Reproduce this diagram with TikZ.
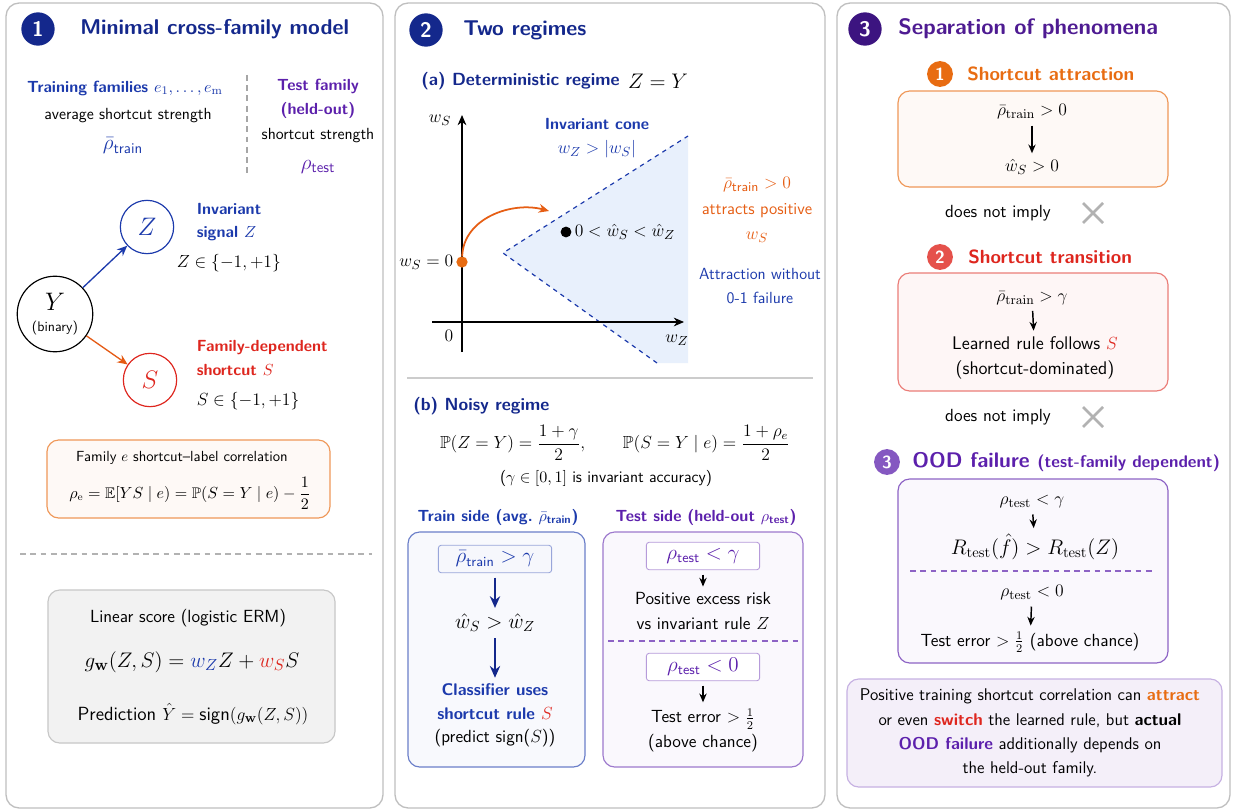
\documentclass[tikz,border=0pt]{standalone}
\usepackage{amsmath}
\usepackage{amssymb}
\usepackage{xcolor}
\usepackage{tikz}
\usetikzlibrary{arrows.meta, positioning, calc}

\definecolor{navy}{RGB}{20,40,140}
\definecolor{sigblue}{RGB}{28,58,172}
\definecolor{testpurple}{RGB}{92,32,172}
\definecolor{darkpurple}{RGB}{60,20,128}
\definecolor{cutred}{RGB}{222,38,30}
\definecolor{attorange}{RGB}{232,108,18}
\definecolor{conefill}{RGB}{232,240,252}

\newcommand{\rtrain}{\bar{\rho}_{\text{train}}}
\newcommand{\rtest}{\rho_{\text{test}}}
\newcommand{\bodysize}{\fontsize{11}{16}\selectfont}
\newcommand{\bigsize}{\fontsize{12}{16.5}\selectfont}

\begin{document}
\begin{tikzpicture}[x=0.024cm, y=-0.024cm,
    panel/.style={draw=black!25, fill=white, rounded corners=9pt, line width=0.9pt},
    badge/.style={circle, fill=#1, text=white, inner sep=0pt, minimum size=0.8cm, font=\sffamily\bfseries\Large},
    subbadge/.style={circle, fill=#1, text=white, inner sep=0pt, minimum size=0.62cm, font=\sffamily\bfseries\large},
    title/.style={anchor=west, inner sep=0pt, text=#1, font=\sffamily\bfseries\fontsize{14.6}{17}\selectfont},
    subtitle/.style={anchor=west, inner sep=0pt, text=#1, font=\sffamily\bfseries\large},
    txt/.style={inner sep=1pt, align=center, font=\sffamily\bodysize},
    bigtxt/.style={txt, font=\sffamily\bigsize},
    hd/.style={txt, font=\sffamily\bfseries\bodysize},
    mth/.style={txt, font=\sffamily\fontsize{13}{15}\selectfont},
    var/.style={circle, draw=#1, text=#1, line width=0.8pt, minimum size=1.28cm, font=\fontsize{18}{18}\selectfont},
    box/.style={draw=#1, rounded corners=8pt, line width=0.8pt},
    cond/.style={draw=#1, rounded corners=2pt, line width=0.6pt, minimum width=2.72cm, minimum height=0.66cm, font=\sffamily\fontsize{13.5}{15}\selectfont},
    arrow/.style={-{Stealth[length=7pt, width=6pt]}, line width=0.9pt},
    darrow/.style={-{Stealth[length=6pt, width=5pt]}, line width=1pt, shorten <=3pt, shorten >=3pt},
    divider/.style={line width=0.7pt, dash pattern=on 4pt off 3pt},
    nocross/.style={draw=black!30, line width=1.8pt}
]
\useasboundingbox (0,0) rectangle (1233,812);
\fill[white] (0,0) rectangle (1233,812);

\draw[panel] (6,3) rectangle (383,808);
\draw[panel] (395,3) rectangle (825,808);
\draw[panel] (837,3) rectangle (1230,808);

% panel 1
\node[badge=navy] (b1) at (38,29) {1};
\node[title=navy] (t1) at (80,29) {Minimal cross-family model};
\node[hd, text=sigblue] (trainfam) at (125,88) {Training families $e_1,\ldots,e_{\mathrm{m}}$};
\node[txt] (avgstr) at (128,116) {average shortcut strength};
\node[mth, font=\sffamily\fontsize{14.5}{16}\selectfont, text=sigblue] (rtrain) at (123,146) {$\rtrain$};
\draw[divider, black!35] (247,75) -- (247,175);
\node[hd, text=testpurple] (testfam) at (318,99) {Test family\\(held-out)};
\node[txt] (teststr) at (318,136) {shortcut strength};
\node[mth, font=\sffamily\fontsize{14.5}{16}\selectfont, text=testpurple] (rtest) at (318,167) {$\rtest$};

\node[var=black, minimum size=1.68cm, align=center] (Y) at (55,314) {$Y$\\[-4pt]{\sffamily\fontsize{9.5}{10}\selectfont (binary)}};
\node[var=sigblue] (Z) at (147,227) {$Z$};
\node[var=cutred] (S) at (150,380) {$S$};
\node[hd, text=sigblue, anchor=west, align=left] (zlab) at (195,222) {Invariant\\signal $Z$};
\node[txt, font=\bigsize, anchor=west] (zdom) at (175,263) {$Z\in\{-1,+1\}$};
\node[hd, text=cutred, anchor=west, align=left] (slab) at (195,358) {Family-dependent\\shortcut $S$};
\node[txt, font=\bigsize, anchor=west] (sdom) at (195,401) {$S\in\{-1,+1\}$};
\draw[arrow, sigblue] (Y) -- (Z);
\draw[arrow, attorange!75!cutred] (Y) -- (S);

\draw[box=attorange!70, fill=attorange!4] (47,440) rectangle (330,518);
\node[txt, font=\sffamily\fontsize{10}{12}\selectfont] (corrlab) at (182,458) {Family $e$ shortcut--label correlation};
\node[txt, font=\fontsize{10.5}{12}\selectfont] (corr) at (190,493) {$\rho_{\mathrm{e}}=\mathbb{E}[YS\mid e)=\mathbb{P}(S=Y\mid e)-\dfrac{1}{2}$};

\draw[divider, black!30] (20,554) -- (372,554);

\draw[box=black!22, fill=black!5] (48,590) rectangle (335,743);
\node[bigtxt] (lscore) at (188,618) {Linear score (logistic ERM)};
\node[mth, font=\fontsize{15}{17}\selectfont] (gform) at (192,662) {$g_{\mathbf{w}}(Z,S)=\textcolor{sigblue}{w_Z}Z+\textcolor{cutred}{w_S}S$};
\node[txt, font=\sffamily\fontsize{13}{15}\selectfont] (pred) at (193,714) {Prediction $\hat{Y}=\text{sign}(g_{\mathbf{w}}(Z,S))$};

% panel 2
\node[badge=navy] (b2) at (426,30) {2};
\node[title=navy] (t2) at (463,30) {Two regimes};
\node[subtitle=navy] (rega) at (421,81) {(a) Deterministic regime};
\node[mth, font=\fontsize{14}{16}\selectfont] (zy) at (658,81) {$Z=Y$};

\fill[conefill] (503,253) -- (688,136) -- (688,363) -- (657,363) -- cycle;
\draw[sigblue, dashed, line width=0.8pt] (657,363) -- (503,253) -- (688,136);
\coordinate (ybot) at (462,352);
\coordinate (ytop) at (462,115);
\coordinate (xleft) at (432,322);
\coordinate (xright) at (684,322);
\draw[arrow] (ybot) -- (ytop);
\draw[arrow] (xleft) -- (xright);
\node[mth] (wslab) at (440,120) {$w_S$};
\node[mth] (zero) at (449,336) {$0$};
\node[mth] (wzlab) at (677,340) {$w_Z$};
\node[hd, text=sigblue] (conelab) at (597,124) {Invariant cone};
\node[mth, text=sigblue] (conecond) at (597,149) {$w_Z>|w_S|$};

\node[circle, fill=attorange, inner sep=0pt, minimum size=0.27cm] (w0) at (462,262) {};
\node[mth, anchor=east] (w0lab) at (455,262) {$w_S=0$};
\coordinate (pull) at (549,211);
\draw[arrow, attorange!80!cutred, line width=1.2pt] (w0) to[out=88, in=165] (pull);
\node[circle, fill=black, inner sep=0pt, minimum size=0.26cm] (what) at (566,232) {};
\node[mth, anchor=west] (whatlab) at (573,232) {$0<\hat{w}_S<\hat{w}_Z$};

\node[txt, font=\sffamily\fontsize{11.5}{16}\selectfont, text=attorange!80!cutred] (attr) at (757,210) {{\fontsize{13}{15}\selectfont$\rtrain>0$}\\[2pt]attracts positive\\[1pt]{\fontsize{13}{15}\selectfont$w_S$}};
\node[txt, text=sigblue] (attrnote) at (760,286) {Attraction without\\0-1 failure};

\draw[black!20, line width=0.8pt] (407,378) -- (813,378);

\node[subtitle=navy] (regb) at (413,406) {(b) Noisy regime};
\node[txt, font=\fontsize{11.9}{14}\selectfont] (noisy) at (615,443) {$\mathbb{P}(Z=Y)=\dfrac{1+\gamma}{2},\qquad \mathbb{P}(S=Y\mid e)=\dfrac{1+\rho_e}{2}$};
\node[txt] (gammanote) at (606,478) {($\gamma\in[0,1]$ is invariant accuracy)};

\node[hd, text=sigblue] (trainhd) at (498,517) {Train side (avg.\ $\rtrain$)};
\draw[box=sigblue!65, fill=sigblue!3] (408,532) rectangle (585,767);
\node[cond=sigblue!45, fill=sigblue!4, text=sigblue] (c1) at (495,559) {$\rtrain>\gamma$};
\node[mth, font=\fontsize{14}{16}\selectfont] (wsz) at (495,623) {$\hat{w}_S>\hat{w}_Z$};
\node[hd, font=\sffamily\bfseries\fontsize{11.5}{16.5}\selectfont, text=sigblue] (clf) at (495,702) {Classifier uses\\shortcut rule \textcolor{cutred}{$S$}};
\node[bigtxt] (predS) at (495,738) {(predict sign($S$))};
\draw[darrow, navy, line width=1.4pt, -{Stealth[length=8pt, width=7pt]}] (c1) -- (wsz);
\draw[darrow, navy, line width=1.4pt, -{Stealth[length=8pt, width=7pt]}] (wsz) -- (clf);

\node[hd, text=testpurple] (testhd) at (706,517) {Test side (held-out $\rtest$)};
\draw[box=testpurple!60, fill=testpurple!3] (603,532) rectangle (803,767);
\node[cond=testpurple!45, fill=white, text=testpurple] (c2) at (703,556) {$\rtest<\gamma$};
\node[bigtxt] (excess) at (703,611) {Positive excess risk\\vs invariant rule $Z$};
\draw[divider, testpurple!70] (608,641) -- (798,641);
\node[cond=testpurple!45, fill=white, text=testpurple] (c3) at (703,667) {$\rtest<0$};
\node[bigtxt] (err) at (703,730) {Test error $>\frac{1}{2}$\\(above chance)};
\draw[darrow] (c2) -- (excess);
\draw[darrow] (c3) -- (err);

% panel 3
\node[badge=darkpurple] (b3) at (865,29) {3};
\node[title=testpurple!85!black, font=\sffamily\bfseries\fontsize{15.2}{17}\selectfont] (t3) at (898,29) {Separation of phenomena};

\node[subbadge=attorange] (s1) at (940,74) {1};
\node[subtitle=attorange, font=\sffamily\bfseries\fontsize{13}{15}\selectfont] (s1t) at (967,74) {Shortcut attraction};
\draw[box=attorange!70, fill=attorange!4] (898,91) rectangle (1168,187);
\node[mth] (a1) at (1032,112) {$\bar{\rho}_{\mathrm{train}}>0$};
\node[mth] (a2) at (1032,167) {$\hat{w}_S>0$};
\draw[darrow] (a1) -- (a2);
\node[bigtxt] (ni1) at (998,213) {does not imply};
\draw[nocross] (1083,203) -- (1103,223) (1083,223) -- (1103,203);

\node[subbadge=cutred!80!white] (s2) at (940,257) {2};
\node[subtitle=cutred, font=\sffamily\bfseries\fontsize{13}{15}\selectfont] (s2t) at (968,257) {Shortcut transition};
\draw[box=cutred!60, fill=cutred!4] (898,273) rectangle (1168,391);
\node[mth] (r1) at (1032,298) {$\bar{\rho}_{\mathrm{train}}>\gamma$};
\node[txt, font=\sffamily\fontsize{12.5}{17}\selectfont] (r2) at (1035,358) {Learned rule follows \textcolor{cutred}{$S$}\\(shortcut-dominated)};
\draw[darrow] (r1) -- (r2);
\node[bigtxt] (ni2) at (998,417) {does not imply};
\draw[nocross] (1083,407) -- (1103,427) (1083,427) -- (1103,407);

\node[subbadge=testpurple!75!white] (s3) at (887,462) {3};
\node[subtitle=testpurple, font=\sffamily\bfseries\fontsize{14.4}{16}\selectfont] (s3t) at (912,462) {OOD failure {\fontsize{11.5}{14}\selectfont (test-family dependent)}};
\draw[box=testpurple!70, fill=testpurple!3] (898,479) rectangle (1168,663);
\node[mth] (o1) at (1032,502) {$\rho_{\mathrm{test}}<\gamma$};
\node[mth, font=\fontsize{14}{16}\selectfont] (o2) at (1035,547) {$R_{\mathrm{test}}(\hat{f})>R_{\mathrm{test}}(Z)$};
\draw[darrow] (o1) -- (o2);
\draw[divider, testpurple!70] (910,571) -- (1153,571);
\node[mth] (o3) at (1032,593) {$\rho_{\mathrm{test}}<0$};
\node[bigtxt] (o4) at (1030,642) {Test error $>\frac{1}{2}$ (above chance)};
\draw[darrow] (o3) -- (o4);

\draw[box=testpurple!35, fill=testpurple!7] (847,679) rectangle (1222,787);
\node[txt, font=\sffamily\fontsize{11.6}{16.5}\selectfont] (summary) at (1030,733) {Positive training shortcut correlation can \textbf{\textcolor{attorange}{attract}}\\or even \textbf{\textcolor{cutred}{switch}} the learned rule, but \textbf{actual}\\\textbf{\textcolor{testpurple}{OOD failure}} additionally depends on\\the held-out family.};

\end{tikzpicture}
\end{document}
